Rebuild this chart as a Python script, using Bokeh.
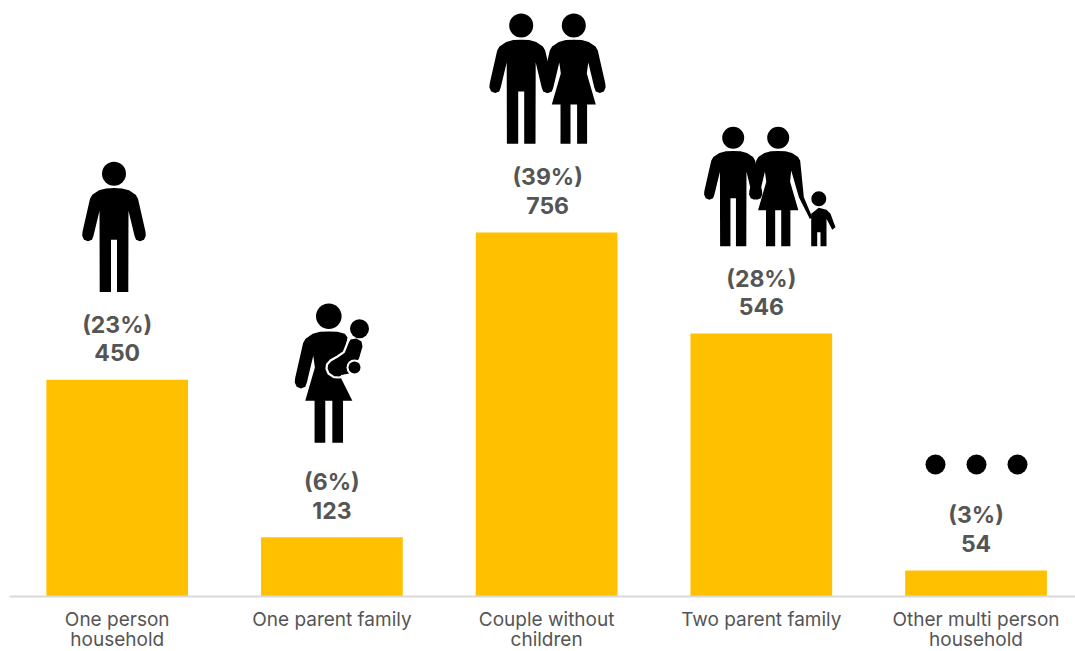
from bokeh.embed import file_html
from bokeh.resources import INLINE
from bokeh.plotting import figure
from bokeh.models import ColumnDataSource, FixedTicker, Range1d
from bokeh.core.properties import value

# Households by type
categories = ["One person\nhousehold", "One parent family", "Couple without\nchildren",
              "Two parent family", "Other multi person\nhousehold"]
households = [450, 123, 756, 546, 54]
shares = ["(23%)", "(6%)", "(39%)", "(28%)", "(3%)"]
label_nudge = [0, 0, 1, 0, 0]

FONT = "Inter"
INK = "#555555"
BAR = "#FFC000"

positions = list(range(len(categories)))

p = figure(width=1075, height=651, frame_width=1075, frame_height=596,
           output_backend="svg", toolbar_location=None,
           x_range=Range1d(-0.5436, 4.4633), y_range=Range1d(0, 1237.8),
           y_axis_location=None, min_border_left=0, min_border_right=0,
           min_border_top=0, min_border_bottom=0, outline_line_color=None,
           background_fill_color="white", border_fill_color="white")
p.grid.visible = False

# Screen-pixel space for the pictograms above the bars
p.extra_x_ranges["px"] = Range1d(0, 1075)
p.extra_y_ranges["px"] = Range1d(596, 0)

axis = p.xaxis[0]
axis.ticker = FixedTicker(ticks=positions)
axis.major_label_overrides = dict(zip(positions, categories))
axis.major_tick_line_color = None
axis.minor_tick_line_color = None
axis.axis_line_color = "#D9D9D9"
axis.axis_line_width = 2
axis.bounds = (-0.5016, 4.4633)
axis.major_label_text_font = FONT
axis.major_label_text_font_size = "19px"
axis.major_label_text_color = INK
axis.major_label_text_line_height = 0.9
axis.major_label_standoff = 5

source = ColumnDataSource(dict(x=positions, top=households, share=shares,
                               count=[str(v) for v in households], nudge=label_nudge))
p.vbar(x="x", top="top", bottom=0, width=0.66, source=source, fill_color=BAR, line_color=None)

for column, lift in (("count", -27), ("share", -55)):
    p.text(x="x", y="top", text=column, source=source, x_offset="nudge", y_offset=lift,
           text_align="center", text_baseline="middle", text_color=INK,
           text_font=value(FONT), text_font_size="23px", text_font_style="bold")

# Half outlines of the pictogram figures, measured from the head centre
SHOULDER = [(0, 14.3), (8, 14.6), (15, 16.5), (21.7, 21), (24, 25)]
ARM = [(31.5, 58), (31.8, 62), (30, 66), (26, 67.5), (22, 66), (20.5, 62), (14.5, 37)]
MAN_LEG = [(14.3, 118.3), (3, 118.3), (3, 66), (0, 66)]
SKIRT = [(13, 48), (22, 79), (13.3, 79), (13.3, 118.3), (3.3, 118.3), (3.3, 79), (0, 79)]
CARRYING_SIDE = [(0, 14.3), (8, 14.6), (15, 16.5), (17.5, 20), (12, 52), (11, 57)] + SKIRT[1:]
HOLDING_ARM = [(28, 64.8), (37.2, 86.6), (34.6, 88.6), (22.6, 64.8), (14.2, 35.7)]
CHILD = [(0, 9), (7.7, 11), (11.7, 15), (16.7, 28.4), (13.4, 31), (7.7, 20), (7.7, 47.4),
         (1.7, 47.4), (1.7, 33.4), (-1.6, 33.4), (-1.6, 47.4), (-7.6, 47.4), (-7.6, 15)]
BABY_BODY = [(350, 339), (356, 338), (361, 341), (362, 346), (358.5, 358), (349, 373),
             (333, 376), (327, 368), (330, 360), (343, 351)]
BABY_WRAP = [(348.3, 338.3), (346, 345), (343.3, 351.7), (337, 356), (330, 360), (326.5, 364),
             (326, 368.3), (328, 373), (333.3, 376.7), (339, 377), (345, 375)]


def draw_shape(points, cx=0, cy=0, scale=1.0):
    p.patch([cx + px * scale for px, _ in points], [cy + py * scale for _, py in points],
            x_range_name="px", y_range_name="px", fill_color="black", line_color=None)


def draw_head(cx, cy, radius, colour="black"):
    p.circle(x=[cx], y=[cy], radius=radius, x_range_name="px", y_range_name="px",
             fill_color=colour, line_color=None)


def mirrored(half):
    return half + [(-x, y) for x, y in reversed(half)]


def man(cx, cy, scale=1.0):
    draw_head(cx, cy, 12 * scale)
    draw_shape(mirrored(SHOULDER + ARM + MAN_LEG), cx, cy, scale)


def woman(cx, cy, scale=1.0):
    draw_head(cx, cy, 12 * scale)
    draw_shape(mirrored(SHOULDER + ARM + SKIRT), cx, cy, scale)


def two_sided(right, left):
    return right + [(-x, y) for x, y in reversed(left)]


# One person
man(113.5, 173.3)

# One parent, baby carried on the back
draw_head(328.3, 315.7, 12.8)
draw_shape(two_sided(CARRYING_SIDE, SHOULDER + ARM + SKIRT), 328.3, 315.7, 1.07)
draw_shape(BABY_BODY)
p.line([x for x, _ in BABY_WRAP], [y for _, y in BABY_WRAP], x_range_name="px", y_range_name="px",
       line_color="white", line_width=2.2, line_join="round")
draw_head(354, 367, 8, "white")
draw_head(354, 367, 6)
draw_head(359, 328.3, 9.5)

# Couple
man(520.7, 25)
woman(573.3, 25)

# Two parents and a child
man(732.7, 137.3, 0.916)
draw_head(777.7, 137.3, 11)
draw_shape(two_sided(SHOULDER + HOLDING_ARM + SKIRT, SHOULDER + ARM + SKIRT), 777.7, 137.3, 0.916)
draw_head(818.3, 198.3, 7.5)
draw_shape(CHILD, 818.3, 198.3)

# Other households
for dot_x in (935, 976, 1017):
    draw_head(dot_x, 464, 10)

open("out.html", "w").write(file_html(p, INLINE))
